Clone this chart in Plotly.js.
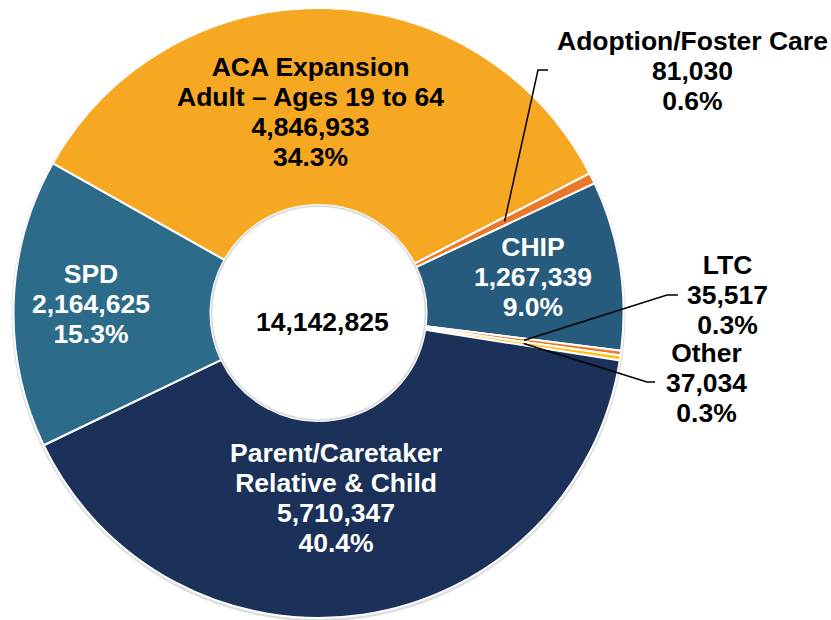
<!DOCTYPE html>
<html><head><meta charset="utf-8">
<script src="https://cdn.plot.ly/plotly-3.0.1.min.js"></script>
<style>html,body{margin:0;padding:0;background:#fff}</style>
</head><body>
<div id="chart" style="width:831px;height:620px"></div>
<script>
// ---- data ----
const categories = ["ACA Expansion Adult – Ages 19 to 64", "Adoption/Foster Care", "CHIP", "LTC", "Other", "Parent/Caretaker Relative & Child", "SPD"];
const labelLines = [["ACA Expansion", "Adult – Ages 19 to 64"], ["Adoption/Foster Care"], ["CHIP"], ["LTC"], ["Other"], ["Parent/Caretaker", "Relative & Child"], ["SPD"]];
const enrollment = [4846933, 81030, 1267339, 35517, 37034, 5710347, 2164625];

// ---- style ----
const sliceColors = ["#F7A823", "#E8792A", "#265B7E", "#EA7A2C", "#FFC20E", "#1B3159", "#2D6B8A"];
const textColors = ["#000000", "#000000", "#FFFFFF", "#000000", "#000000", "#FFFFFF", "#FFFFFF"];

const W = 831, H = 620;
const cx = 318.5, cy = 313, R = 305, holeR = 108;
const rotation = -60.6;

// label anchor positions (pixels)
const labelPos = [[310, 112], [692, 71], [533, 277], [727, 295], [706, 383], [336, 498], [91, 304]];
// leader line elbows for outside labels (pixels): [corner, end]
const leaders = {1: [[538, 70], [548, 70]], 3: [[667, 295], [678, 295]], 4: [[647, 382], [655, 382]]};

const total = enrollment.reduce((a, b) => a + b, 0);
const fmt = v => v.toLocaleString('en-US');
const px = x => x / W, py = y => 1 - y / H;

const trace = {
  type: 'pie',
  labels: categories,
  values: enrollment,
  sort: false,
  direction: 'clockwise',
  rotation: rotation,
  hole: holeR / R,
  textinfo: 'none',
  hoverinfo: 'label+value+percent',
  marker: {colors: sliceColors, line: {color: '#FFFFFF', width: 2}},
  domain: {x: [(cx - R) / W, (cx + R) / W], y: [(H - cy - R) / H, (H - cy + R) / H]},
  showlegend: false
};

const GS = 'font-size:26.5px';
const line = s => `<span style="${GS}">${s}</span>`;

const annotations = [];
enrollment.forEach((v, i) => {
  const pct = (v / total * 100).toFixed(1) + '%';
  const lines = labelLines[i].concat([fmt(v), pct]).map(line).join('<br>');
  annotations.push({
    xref: 'paper', yref: 'paper', x: px(labelPos[i][0]), y: py(labelPos[i][1]),
    xanchor: 'center', yanchor: 'middle', showarrow: false, text: lines, align: 'center',
    borderpad: 0,
    font: {family: 'Arial, Liberation Sans, sans-serif', size: 23, color: textColors[i], weight: 700}
  });
});
annotations.push({
  xref: 'paper', yref: 'paper', x: px(322), y: py(322), xanchor: 'center', yanchor: 'middle',
  showarrow: false, text: line(fmt(total)), borderpad: 0,
  font: {family: 'Arial, Liberation Sans, sans-serif', size: 23, color: '#000000', weight: 700}
});

// leader lines from slice mid-angles
const shapes = [];
shapes.push({type: 'circle', xref: 'paper', yref: 'paper', layer: 'below',
  x0: px(cx - R - 2), x1: px(cx + R + 2), y0: py(cy + 1.5 + R + 2), y1: py(cy + 1.5 - R - 2),
  fillcolor: 'rgba(0,0,0,0.13)', line: {width: 0}});
shapes.push({type: 'circle', xref: 'paper', yref: 'paper', layer: 'above',
  x0: px(cx - holeR + 1), x1: px(cx + holeR - 1), y0: py(cy + holeR - 1), y1: py(cy - holeR + 1),
  fillcolor: '#FFFFFF', line: {color: 'rgba(0,0,0,0.12)', width: 2}});

let cum = 0;
enrollment.forEach((v, i) => {
  const mid = (rotation + 360 * (cum + v / 2) / total) * Math.PI / 180;
  cum += v;
  if (leaders[i]) {
    const r = 0.68 * R;
    const x0 = cx + r * Math.sin(mid), y0 = cy - r * Math.cos(mid);
    const [c, e] = leaders[i];
    shapes.push({type: 'path', xref: 'paper', yref: 'paper', layer: 'above',
      path: `M ${px(x0)},${py(y0)} L ${px(c[0])},${py(c[1])} L ${px(e[0])},${py(e[1])}`,
      line: {color: '#000000', width: 1.5}});
  }
});

const layout = {
  width: W, height: H, margin: {l: 0, r: 0, t: 0, b: 0},
  paper_bgcolor: '#FFFFFF', plot_bgcolor: '#FFFFFF',
  annotations: annotations, shapes: shapes, showlegend: false
};
Plotly.newPlot('chart', [trace], layout, {displayModeBar: false, staticPlot: true});
</script>
</body></html>
